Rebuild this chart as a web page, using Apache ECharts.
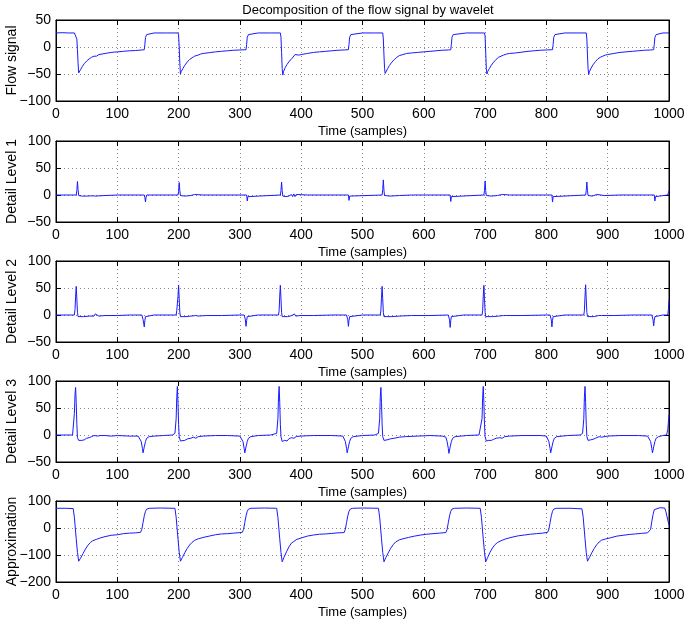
<!DOCTYPE html>
<html>
<head>
<meta charset="utf-8">
<script src="https://cdn.jsdelivr.net/npm/echarts@6/dist/echarts.min.js"></script>
<style>
html,body{margin:0;padding:0;background:#fff;}
#chart{width:685px;height:620px;}
</style>
</head>
<body>
<div id="chart"></div>
<script>
// ---- Data ----
var chartTitle = 'Decomposition of the flow signal by wavelet';
var panelNames = ['Flow signal', 'Detail Level 1', 'Detail Level 2', 'Detail Level 3', 'Approximation'];
var xTitle = 'Time (samples)';
var xTicks = [0, 100, 200, 300, 400, 500, 600, 700, 800, 900, 1000];
var yRanges = [[-100, 50, 50], [-50, 100, 50], [-50, 100, 50], [-50, 100, 50], [-200, 100, 100]];

var flow = [
[0,26],[10,26.5],[20,26],[30,26],[33,25.5],
[34,15],[35,-5],[36,-30],[37,-48],[38,-46],[40,-42],[43,-36],[46,-31],[50,-26],[54,-22],[58,-19],[62,-17],[64,-15],[66,-17],[70,-14],[75,-13],[80,-12],[85,-11],[90,-10],[95,-9.5],[100,-9],[110,-8],[120,-7],[130,-6.5],[140,-5.5],[144,-5],
[145,5],[146,18],[148,23],[151,25.5],[160,26],[180,26],[199,26],
[200,22],[201,0],[202,-30],[203,-50],[204,-46],[207,-40],[210,-34],[214,-28],[218,-23],[222,-20],[226,-17],[229,-14],[232,-15],[236,-13],[240,-12],[250,-10.5],[260,-9],[270,-8],[280,-7],[290,-6],[300,-5.5],[310,-5],
[311,5],[312,18],[314,23],[317,25.5],[330,26],[350,26],[366,26],
[367,18],[368,-10],[369,-40],[370,-52],[371,-46],[374,-38],[377,-32],[381,-26],[385,-21],[388,-18],[390,-14],[392,-17],[396,-15],[400,-14],[410,-12],[420,-10],[430,-9],[440,-8],[450,-7],[460,-6],[470,-5.5],[477,-5],
[478,5],[479,18],[481,23],[484,25.5],[500,26],[520,26],[533,26],
[534,15],[535,-15],[536,-40],[537,-49],[538,-46],[541,-40],[544,-34],[548,-28],[552,-23],[556,-19],[560,-16],[566,-14],[572,-12],[580,-11],[590,-10],[600,-9],[610,-8],[620,-7],[630,-6],[640,-5.5],[644,-5],
[645,5],[646,18],[648,23],[651,25.5],[670,26],[690,26],[699,26],
[700,20],[701,-10],[702,-40],[703,-50],[704,-46],[707,-40],[710,-34],[714,-28],[718,-23],[722,-19],[726,-17],[730,-15],[735,-13],[740,-12],[750,-11],[760,-9.5],[770,-8],[780,-7],[790,-6],[800,-5.5],[810,-5],
[811,5],[812,18],[814,23],[817,25.5],[830,26],[850,26],[865,26],
[866,15],[867,-15],[868,-40],[869,-51],[870,-46],[873,-39],[876,-33],[880,-27],[884,-22],[888,-19],[892,-17],[896,-15],[900,-14],[910,-12],[920,-10],[930,-9],[940,-8],[950,-7],[960,-6],[970,-5.5],[975,-5],
[976,5],[977,18],[979,23],[982,25.5],[990,26],[1000,26]
];

var detail1 = [
[0,0],[33,0],[34,8],[35,25],[36,10],[37,-1],[38,-3],[42,-2],[50,-2],[60,-1.5],[63,1],[64,-2],[65,0],[80,-1],[100,0],[144,0],
[145,-5],[146,-13],[147,-4],[148,0],[199,0],
[200,6],[201,23],[202,8],[203,-1],[204,-3],[210,-2],[220,-1],[226,1],[228,2],[229,-1],[240,0],[311,0],
[312,-11],[313,-3],[314,0],[366,0],
[367,8],[368,24],[369,8],[370,-2],[371,-4],[375,-3],[380,-2],[384,1],[386,-3],[388,2],[390,-3],[392,1],[395,-1],[410,0],[477,0],
[478,-10],[479,-2],[480,0],[532,0],
[533,10],[534,28],[535,8],[536,-1],[537,-3],[545,-2],[560,-1],[580,0],[643,0],
[644,-12],[645,-3],[646,0],[698,0],
[699,8],[700,26],[701,8],[702,-1],[703,-3],[710,-2],[720,-1],[728,1],[730,-2],[740,0],[809,0],
[810,-13],[811,-3],[812,0],[864,0],
[865,8],[866,24],[867,8],[868,-1],[869,-3],[875,-2],[882,1],[884,-2],[895,-1],[920,0],[976,0],
[977,-11],[978,-3],[979,0],[998,0],[999,2],[1000,8]
];

var detail2 = [
[0,0],[30,0],[31,10],[32,35],[33,53],[34,30],[35,5],[36,-3],[38,-4],[45,-3],[55,-2],[62,-2],[64,2],[65,-1],[70,-2],[80,-1],[100,-1],[120,0],[140,0],
[141,-3],[142,-8],[144,-22],[145,-10],[146,-3],[148,-1],[160,0],[196,0],
[197,8],[199,35],[200,55],[201,30],[202,5],[203,-3],[205,-4],[212,-3],[220,-2],[228,-1],[230,1],[232,-2],[245,-1],[270,-1],[300,0],[307,0],
[308,-3],[309,-9],[310,-21],[311,-10],[312,-3],[314,-1],[330,0],[363,0],
[364,8],[365,35],[366,55],[367,30],[368,5],[369,-3],[372,-4],[378,-3],[385,-1],[387,-3],[389,2],[391,-2],[394,1],[398,-1],[420,-1],[450,0],[474,0],
[475,-3],[476,-9],[477,-21],[478,-10],[479,-3],[481,-1],[500,0],[529,0],
[530,8],[531,33],[532,53],[533,30],[534,5],[535,-3],[538,-4],[548,-3],[560,-2],[580,-1],[610,-1],[640,0],
[641,-3],[642,-9],[643,-23],[644,-10],[645,-3],[647,-1],[665,0],[695,0],
[696,8],[697,35],[698,55],[699,30],[700,5],[701,-3],[704,-4],[712,-3],[722,-2],[730,-1],[732,-3],[735,-1],[760,-1],[800,0],[806,0],
[807,-3],[808,-9],[809,-22],[810,-10],[811,-3],[813,-1],[830,0],[861,0],
[862,8],[863,35],[864,56],[865,30],[866,5],[867,-3],[870,-4],[878,-3],[885,-1],[888,-3],[890,-1],[910,-1],[940,0],[972,0],
[973,-3],[974,-9],[975,-20],[976,-10],[977,-3],[979,-1],[990,0],[998,0],[999,10],[1000,27]
];

var detail3 = [
[0,0],[27,0],[28,3],[30,40],[31,75],[32,88],[33,60],[34,20],[35,-5],[37,-10],[42,-10],[46,-9],[50,-6],[54,-5],[58,-3],[62,-1],[65,0],[68,-2],[72,-1],[80,-1],[90,-2],[100,-1],[120,-2],[134,-2],
[137,-4],[139,-12],[141,-25],[142,-33],[144,-22],[146,-12],[148,-6],[152,-3],[160,-2],[175,-1],[190,0],[194,3],
[196,30],[197,70],[198,90],[199,60],[200,20],[201,-3],[203,-11],[206,-9],[210,-10],[215,-7],[220,-6],[224,-4],[228,-6],[232,-3],[240,-2],[260,-1],[280,-1],[300,-2],
[303,-4],[305,-12],[307,-25],[308,-33],[310,-22],[312,-12],[314,-6],[318,-3],[330,-1],[350,0],[360,3],
[362,30],[363,70],[364,90],[365,60],[366,20],[367,-3],[369,-12],[373,-10],[377,-11],[380,-7],[384,-5],[388,-6],[392,-3],[398,-2],[420,-1],[450,-1],[468,-2],
[470,-4],[472,-12],[474,-25],[475,-33],[477,-22],[479,-12],[481,-6],[485,-3],[500,-1],[520,0],[526,3],
[528,30],[529,70],[530,88],[531,60],[532,20],[533,-3],[535,-10],[540,-9],[546,-7],[552,-6],[560,-4],[570,-3],[590,-2],[610,-1],[630,-2],
[636,-4],[638,-12],[640,-25],[641,-34],[643,-22],[645,-12],[647,-6],[651,-3],[670,-1],[690,0],[693,3],
[695,30],[696,70],[697,90],[698,60],[699,20],[700,-3],[702,-11],[706,-10],[710,-10],[714,-8],[718,-6],[724,-5],[728,-6],[732,-3],[740,-2],[760,-1],[790,-1],[800,-2],
[802,-4],[804,-12],[806,-25],[807,-33],[809,-22],[811,-12],[813,-6],[817,-3],[835,-1],[855,0],[859,3],
[861,30],[862,70],[863,90],[864,60],[865,20],[866,-3],[868,-10],[872,-9],[876,-8],[880,-6],[886,-3],[890,-4],[900,-2],[920,-1],[950,-1],[965,-2],
[968,-4],[970,-12],[972,-25],[973,-33],[975,-22],[977,-12],[979,-6],[983,-3],[990,-1],[996,0],[998,10],[1000,37]
];

var approximation = [
[0,73],[15,73],[28,72],[30,40],[33,-40],[35,-90],[37,-123],[40,-112],[44,-95],[48,-78],[52,-64],[56,-54],[60,-47],[66,-42],[72,-37],[80,-32],[90,-27],[100,-25],[110,-21],[120,-19],[130,-18],[138,-16],
[140,-5],[142,20],[144,45],[146,62],[148,70],[152,73],[170,74],[194,73],
[196,40],[199,-40],[201,-90],[203,-123],[206,-110],[210,-92],[214,-76],[218,-63],[222,-53],[226,-46],[232,-40],[240,-35],[250,-30],[260,-25],[270,-22],[280,-21],[290,-19],[300,-17],[304,-16],
[306,-5],[308,20],[310,45],[312,62],[314,70],[318,73],[340,74],[360,73],
[362,40],[365,-40],[367,-90],[369,-125],[372,-108],[376,-88],[380,-70],[384,-56],[388,-50],[392,-43],[400,-37],[410,-30],[420,-26],[430,-23],[440,-22],[450,-20],[460,-18],[470,-17],
[472,-5],[474,20],[476,45],[478,62],[480,70],[484,73],[500,74],[526,73],
[528,40],[531,-40],[533,-90],[535,-125],[538,-110],[542,-92],[546,-75],[550,-62],[554,-52],[560,-44],[566,-40],[575,-35],[585,-30],[595,-26],[605,-23],[615,-21],[625,-19],[636,-17],
[638,-5],[640,20],[642,45],[644,62],[646,70],[650,73],[670,74],[692,73],
[694,40],[697,-40],[699,-90],[701,-125],[704,-110],[708,-90],[712,-74],[716,-62],[720,-54],[726,-47],[734,-40],[744,-34],[754,-29],[764,-26],[774,-23],[784,-21],[794,-19],[802,-16],
[804,-5],[806,20],[808,45],[810,62],[812,70],[816,73],[840,73],[858,71],
[860,40],[863,-40],[865,-90],[867,-123],[870,-110],[874,-92],[878,-76],[882,-62],[886,-52],[890,-45],[896,-41],[905,-36],[915,-30],[925,-27],[935,-24],[945,-22],[955,-20],[965,-18],[968,-16],
[970,-5],[972,25],[974,50],[976,68],[978,73],[985,75],[993,74],[995,60],[998,30],[1000,10]
];

var seriesData = [flow, detail1, detail2, detail3, approximation];

// ---- Chart ----
var FONT = 'Liberation Sans, Arial, Helvetica, sans-serif';
var tops = [20, 141, 261, 381, 501];
var H = 81;
var grids = [], xAxes = [], yAxes = [], series = [];
var xMin = xTicks[0], xMax = xTicks[xTicks.length - 1], xStep = xTicks[1] - xTicks[0];
function numFmt(v) { return v < 0 ? '\u2212' + Math.abs(v) : String(v); }

for (var i = 0; i < 5; i++) {
  grids.push({left: 56, right: 16, top: tops[i], height: H, show: true, borderColor: '#000', borderWidth: 1,
    backgroundColor: 'transparent', containLabel: false, outerBoundsMode: 'none'});
  var splitStyle = {show: true, lineStyle: {color: '#888', width: 1, type: [1, 3]}};
  xAxes.push({
    type: 'value', gridIndex: i, position: 'bottom', min: xMin, max: xMax, interval: xStep,
    axisLine: {show: true, onZero: false, lineStyle: {color: '#000', width: 1}},
    axisTick: {show: true, inside: true, length: 5, lineStyle: {color: '#000'}},
    axisLabel: {show: true, color: '#000', fontSize: 14, fontFamily: FONT, margin: 6, formatter: numFmt},
    splitLine: splitStyle,
    name: xTitle, nameLocation: 'middle', nameGap: 24, nameMoveOverlap: false,
    nameTextStyle: {color: '#000', fontSize: 13, fontFamily: FONT}
  });
  xAxes.push({
    type: 'value', gridIndex: i, position: 'top', min: xMin, max: xMax, interval: xStep,
    axisLine: {show: true, onZero: false, lineStyle: {color: '#000', width: 1}},
    axisTick: {show: true, inside: true, length: 5, lineStyle: {color: '#000'}},
    axisLabel: {show: false}, splitLine: {show: false}
  });
  var yr = yRanges[i];
  yAxes.push({
    type: 'value', gridIndex: i, position: 'left', min: yr[0], max: yr[1], interval: yr[2],
    axisLine: {show: true, onZero: false, lineStyle: {color: '#000', width: 1}},
    axisTick: {show: true, inside: true, length: 5, lineStyle: {color: '#000'}},
    axisLabel: {show: true, color: '#000', fontSize: 14, fontFamily: FONT, margin: 5, formatter: numFmt},
    splitLine: splitStyle,
    name: panelNames[i], nameLocation: 'middle', nameGap: 37, nameMoveOverlap: false,
    nameTextStyle: {color: '#000', fontSize: 14, fontFamily: FONT}
  });
  yAxes.push({
    type: 'value', gridIndex: i, position: 'right', min: yr[0], max: yr[1], interval: yr[2],
    axisLine: {show: true, onZero: false, lineStyle: {color: '#000', width: 1}},
    axisTick: {show: true, inside: true, length: 5, lineStyle: {color: '#000'}},
    axisLabel: {show: false}, splitLine: {show: false}
  });
  series.push({
    type: 'line', xAxisIndex: 2 * i, yAxisIndex: 2 * i, data: seriesData[i],
    showSymbol: false, symbol: 'none', animation: false, silent: true,
    lineStyle: {color: '#1a1aff', width: 1}
  });
}

var chart = echarts.init(document.getElementById('chart'), null, {renderer: 'canvas'});
chart.setOption({
  animation: false,
  backgroundColor: '#fff',
  title: {text: chartTitle, left: 363, top: -1, textAlign: 'center',
    textStyle: {color: '#000', fontSize: 13, fontWeight: 'normal', fontFamily: FONT}},
  grid: grids, xAxis: xAxes, yAxis: yAxes, series: series
});
</script>
</body>
</html>
